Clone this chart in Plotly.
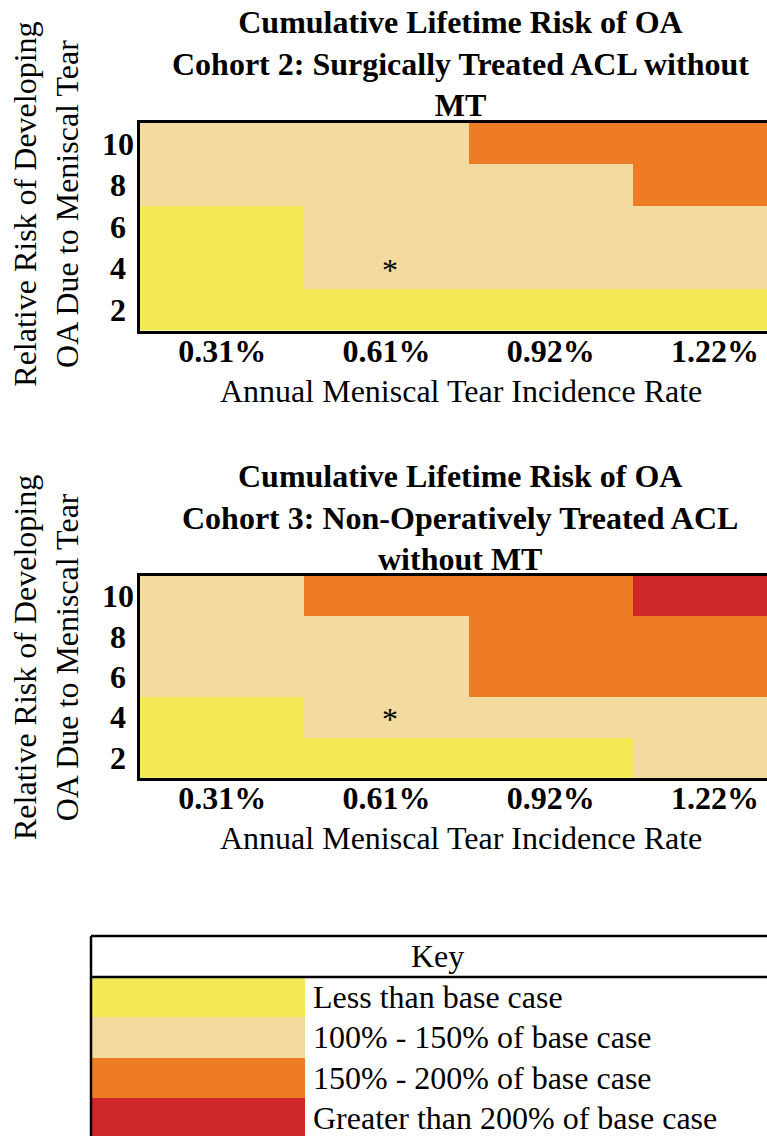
import plotly.graph_objects as go

# ---- data -------------------------------------------------------------
rates = ["0.31%", "0.61%", "0.92%", "1.22%"]          # annual meniscal tear incidence
relative_risk = [2, 4, 6, 8, 10]                      # relative risk of OA due to MT

# risk category per cell: 0 < base, 1 = 100-150%, 2 = 150-200%, 3 = > 200%
# rows follow relative_risk (2 -> 10), columns follow rates
cohort2 = [
    [0, 0, 0, 0],
    [0, 1, 1, 1],
    [0, 1, 1, 1],
    [1, 1, 1, 2],
    [1, 1, 2, 2],
]
cohort3 = [
    [0, 0, 0, 1],
    [0, 1, 1, 1],
    [1, 1, 2, 2],
    [1, 1, 2, 2],
    [1, 2, 2, 3],
]
base_case = ("0.61%", 4)   # starred cell

key_labels = [
    "Less than base case",
    "100% - 150% of base case",
    "150% - 200% of base case",
    "Greater than 200% of base case",
]
key_colors = ["#F3EA55", "#F3DA9E", "#EE7C27", "#CF2629"]

titles = [
    "Cumulative Lifetime Risk of OA<br>Cohort 2: Surgically Treated ACL without<br>MT",
    "Cumulative Lifetime Risk of OA<br>Cohort 3: Non-Operatively Treated ACL<br>without MT",
]

# ---- layout helpers ---------------------------------------------------
W, H = 767, 1136
FONT = "Liberation Serif, Times New Roman, serif"


def px(x):
    return x / W


def py(y):
    return 1 - y / H


# discrete colour scale for categories 0..3
n = len(key_colors)
cscale = []
for i, c in enumerate(key_colors):
    cscale += [[i / n, c], [(i + 1) / n, c]]

fig = go.Figure()

panels = [
    # grid, axis suffix, plot top px, plot bottom px, title mid-line px
    (cohort2, "", 122.7, 330.7, 63),
    (cohort3, "2", 576.0, 778.0, 517),
]

col_w = 164.3
x_left = 140.0
x_end = -0.5 + (W - x_left) / col_w

annotations = []
shapes = []

for k, (grid, ax, top, bot, tmid) in enumerate(panels):
    xa = "x" + ax
    ya = "y" + ax
    fig.add_trace(go.Heatmap(
        z=grid, x=list(range(len(rates))), y=relative_risk,
        colorscale=cscale, zmin=-0.5, zmax=n - 0.5,
        showscale=False, hoverinfo="skip",
        xaxis=xa, yaxis=ya,
    ))
    xkey = "xaxis" + ax
    ykey = "yaxis" + ax
    fig.update_layout({
        xkey: dict(
            domain=[px(x_left), 1], range=[-0.5, x_end],
            tickvals=list(range(len(rates))), ticktext=rates,
            tickfont=dict(family=FONT, size=32, color="black", weight="bold"),
            ticks="", ticklabelstandoff=-10,
            showgrid=False, zeroline=False,
            showline=True, mirror=True, linecolor="black", linewidth=2.5,
            anchor=ya, fixedrange=True,
        ),
        ykey: dict(
            domain=[py(bot), py(top)], range=[1, 11],
            showticklabels=False, ticks="", showgrid=False, zeroline=False,
            showline=True, mirror=False, linecolor="black", linewidth=2.5,
            anchor=xa, fixedrange=True,
        ),
    })

    # centred y tick labels
    for r in relative_risk:
        annotations.append(dict(
            x=px(118), y=r, xref="paper", yref=ya, text=str(r),
            showarrow=False, xanchor="center", yanchor="middle",
            font=dict(family=FONT, size=32, color="black", weight="bold"),
        ))

    # base-case marker
    annotations.append(dict(
        x=rates.index(base_case[0]), y=base_case[1], xref=xa, yref=ya,
        text="*", showarrow=False, xanchor="center", yanchor="middle",
        xshift=4, yshift=-2,
        font=dict(family=FONT, size=32, color="black"),
    ))

    # panel title
    annotations.append(dict(
        x=px(460), y=py(tmid), xref="paper", yref="paper", text=titles[k],
        showarrow=False, xanchor="center", yanchor="middle",
        font=dict(family=FONT, size=32, color="black", weight="bold"),
    ))

    # x axis title
    annotations.append(dict(
        x=px(461), y=py(bot + 60), xref="paper", yref="paper",
        text="Annual Meniscal Tear Incidence Rate",
        showarrow=False, xanchor="center", yanchor="middle",
        font=dict(family=FONT, size=32, color="black"),
    ))

    # y axis title
    annotations.append(dict(
        x=px(46), y=py(top + 82), xref="paper", yref="paper",
        text="Relative Risk of Developing<br>OA Due to Meniscal Tear",
        textangle=-90, showarrow=False, xanchor="center", yanchor="middle",
        font=dict(family=FONT, size=32, color="black"),
    ))

# ---- key --------------------------------------------------------------
key_top, key_head, row_h = 936.0, 977.0, 40.2
key_x0, key_x1 = 91.0, 305.0
fig.add_trace(go.Heatmap(
    z=[[i] for i in range(n)], x=[0], y=list(range(n)),
    colorscale=cscale, zmin=-0.5, zmax=n - 0.5,
    showscale=False, hoverinfo="skip", xaxis="x3", yaxis="y3",
))
fig.update_layout(
    xaxis3=dict(domain=[px(key_x0), px(key_x1)], range=[-0.5, 0.5],
                visible=False, anchor="y3", fixedrange=True),
    yaxis3=dict(domain=[0, py(key_head)],
                range=[-0.5 + (H - key_head) / row_h, -0.5],
                visible=False, anchor="x3", fixedrange=True),
)
for i, lab in enumerate(key_labels):
    annotations.append(dict(
        x=px(311), y=i, xref="paper", yref="y3", text=lab,
        showarrow=False, xanchor="left", yanchor="middle",
        font=dict(family=FONT, size=32, color="black"),
    ))
annotations.append(dict(
    x=px(437), y=py((key_top + key_head) / 2), xref="paper", yref="paper",
    text="Key", showarrow=False, xanchor="center", yanchor="middle",
    font=dict(family=FONT, size=32, color="black"),
))
line = dict(color="black", width=2.5)
shapes += [
    dict(type="line", xref="paper", yref="paper", x0=px(key_x0), x1=1,
         y0=py(key_top), y1=py(key_top), line=line),
    dict(type="line", xref="paper", yref="paper", x0=px(key_x0), x1=1,
         y0=py(key_head), y1=py(key_head), line=line),
    dict(type="line", xref="paper", yref="paper", x0=px(key_x0), x1=px(key_x0),
         y0=py(key_top), y1=0, line=line),
]

fig.update_layout(
    width=W, height=H, margin=dict(l=0, r=0, t=0, b=0),
    paper_bgcolor="white", plot_bgcolor="white",
    annotations=annotations, shapes=shapes, showlegend=False,
    font=dict(family=FONT, color="black"),
)

fig.write_html("out.html", config={"displayModeBar": False})
